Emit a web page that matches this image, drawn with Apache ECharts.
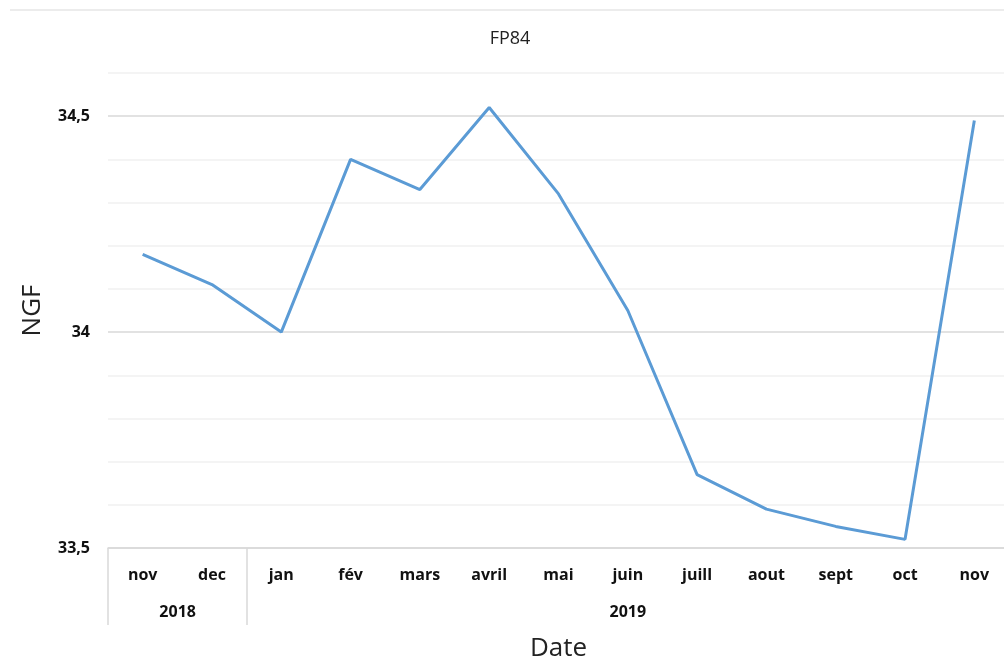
<!DOCTYPE html>
<html>
<head>
<meta charset="utf-8">
<script src="https://cdn.jsdelivr.net/npm/echarts@6/dist/echarts.min.js"></script>
<style>
  html, body { margin: 0; padding: 0; background: #fff; }
  #chart { width: 1004px; height: 662px; }
</style>
</head>
<body>
<div id="chart"></div>
<script>
// mois (axe du bas)
var months = ['nov', 'dec', 'jan', 'fév', 'mars', 'avril', 'mai', 'juin', 'juill', 'aout', 'sept', 'oct', 'nov'];
// niveau NGF relevé
var ngf = [34.18, 34.11, 34.00, 34.40, 34.33, 34.52, 34.32, 34.05, 33.67, 33.59, 33.55, 33.52, 34.49];
// années : libellé, indice du premier mois
var years = ['2018', '2019'];
var yearStart = [0, 2];
var yearLabelAt = [0, 7];

var font = '"Open Sans", "Noto Sans", sans-serif';

var myChart = echarts.init(document.getElementById('chart'));
myChart.setOption({
	animation: false,
	title: {
		text: 'FP84',
		left: 505,
		top: 25,
		textAlign: 'center',
		textStyle: { fontFamily: font, fontSize: 18, fontWeight: 'normal', color: '#222' }
	},
	graphic: [{
		type: 'line',
		shape: { x1: 10, y1: 10, x2: 1004, y2: 10 },
		style: { stroke: '#d9d9d9', lineWidth: 1 }
	}],
	grid: { left: 108, width: 901, top: 73, bottom: 114, containLabel: false, outerBoundsMode: 'none' },
	xAxis: [
		{
			type: 'category',
			data: months,
			boundaryGap: true,
			axisLine: { lineStyle: { color: '#d9d9d9', width: 1.5 } },
			axisTick: { show: false },
			axisLabel: { margin: 19, fontFamily: font, fontSize: 16, fontWeight: 'bold', color: '#111', interval: 0 },
			name: 'Date',
			nameLocation: 'middle',
			nameGap: 88,
			nameTextStyle: { fontFamily: font, fontSize: 26, color: '#222' }
		},
		{
			type: 'category',
			data: months,
			boundaryGap: true,
			position: 'bottom',
			axisLine: { show: false },
			axisTick: {
				show: true,
				length: 77,
				lineStyle: { color: '#d9d9d9', width: 1.5 },
				interval: function (index) { return yearStart.indexOf(index) >= 0; }
			},
			axisLabel: {
				margin: 56,
				interval: 0,
				fontFamily: font, fontSize: 16, fontWeight: 'bold', color: '#111',
				formatter: function (v, index) {
					var k = yearLabelAt.indexOf(index);
					if (k < 0) return '';
					return k === 0 ? '{s|' + years[k] + '}' : years[k];
				},
				rich: {
					s: { padding: [0, 0, 0, 70], fontFamily: font, fontSize: 16, fontWeight: 'bold', color: '#111' }
				}
			}
		}
	],
	yAxis: {
		type: 'value',
		min: 33.5,
		max: 34.6,
		interval: 0.1,
		axisLine: { show: false },
		axisTick: { show: false },
		axisLabel: {
			margin: 18,
			fontFamily: font, fontSize: 16, fontWeight: 'bold', color: '#111',
			formatter: function (v) {
				var r = Math.round(v * 10) / 10;
				if (Math.abs(r * 2 - Math.round(r * 2)) < 1e-6) return String(r).replace('.', ',');
				return '';
			}
		},
		splitLine: {
			lineStyle: { color: ['#d9d9d9', '#f0f0f0', '#f0f0f0', '#f0f0f0', '#f0f0f0'], width: 1.5 }
		},
		name: 'NGF',
		nameLocation: 'middle',
		nameRotate: 90,
		nameGap: 62,
		nameTextStyle: { fontFamily: font, fontSize: 26, color: '#222' }
	},
	series: [
		{
			type: 'line',
			data: ngf,
			symbol: 'none',
			lineStyle: { color: '#5b9bd5', width: 3 }
		}
	]
});
</script>
</body>
</html>
